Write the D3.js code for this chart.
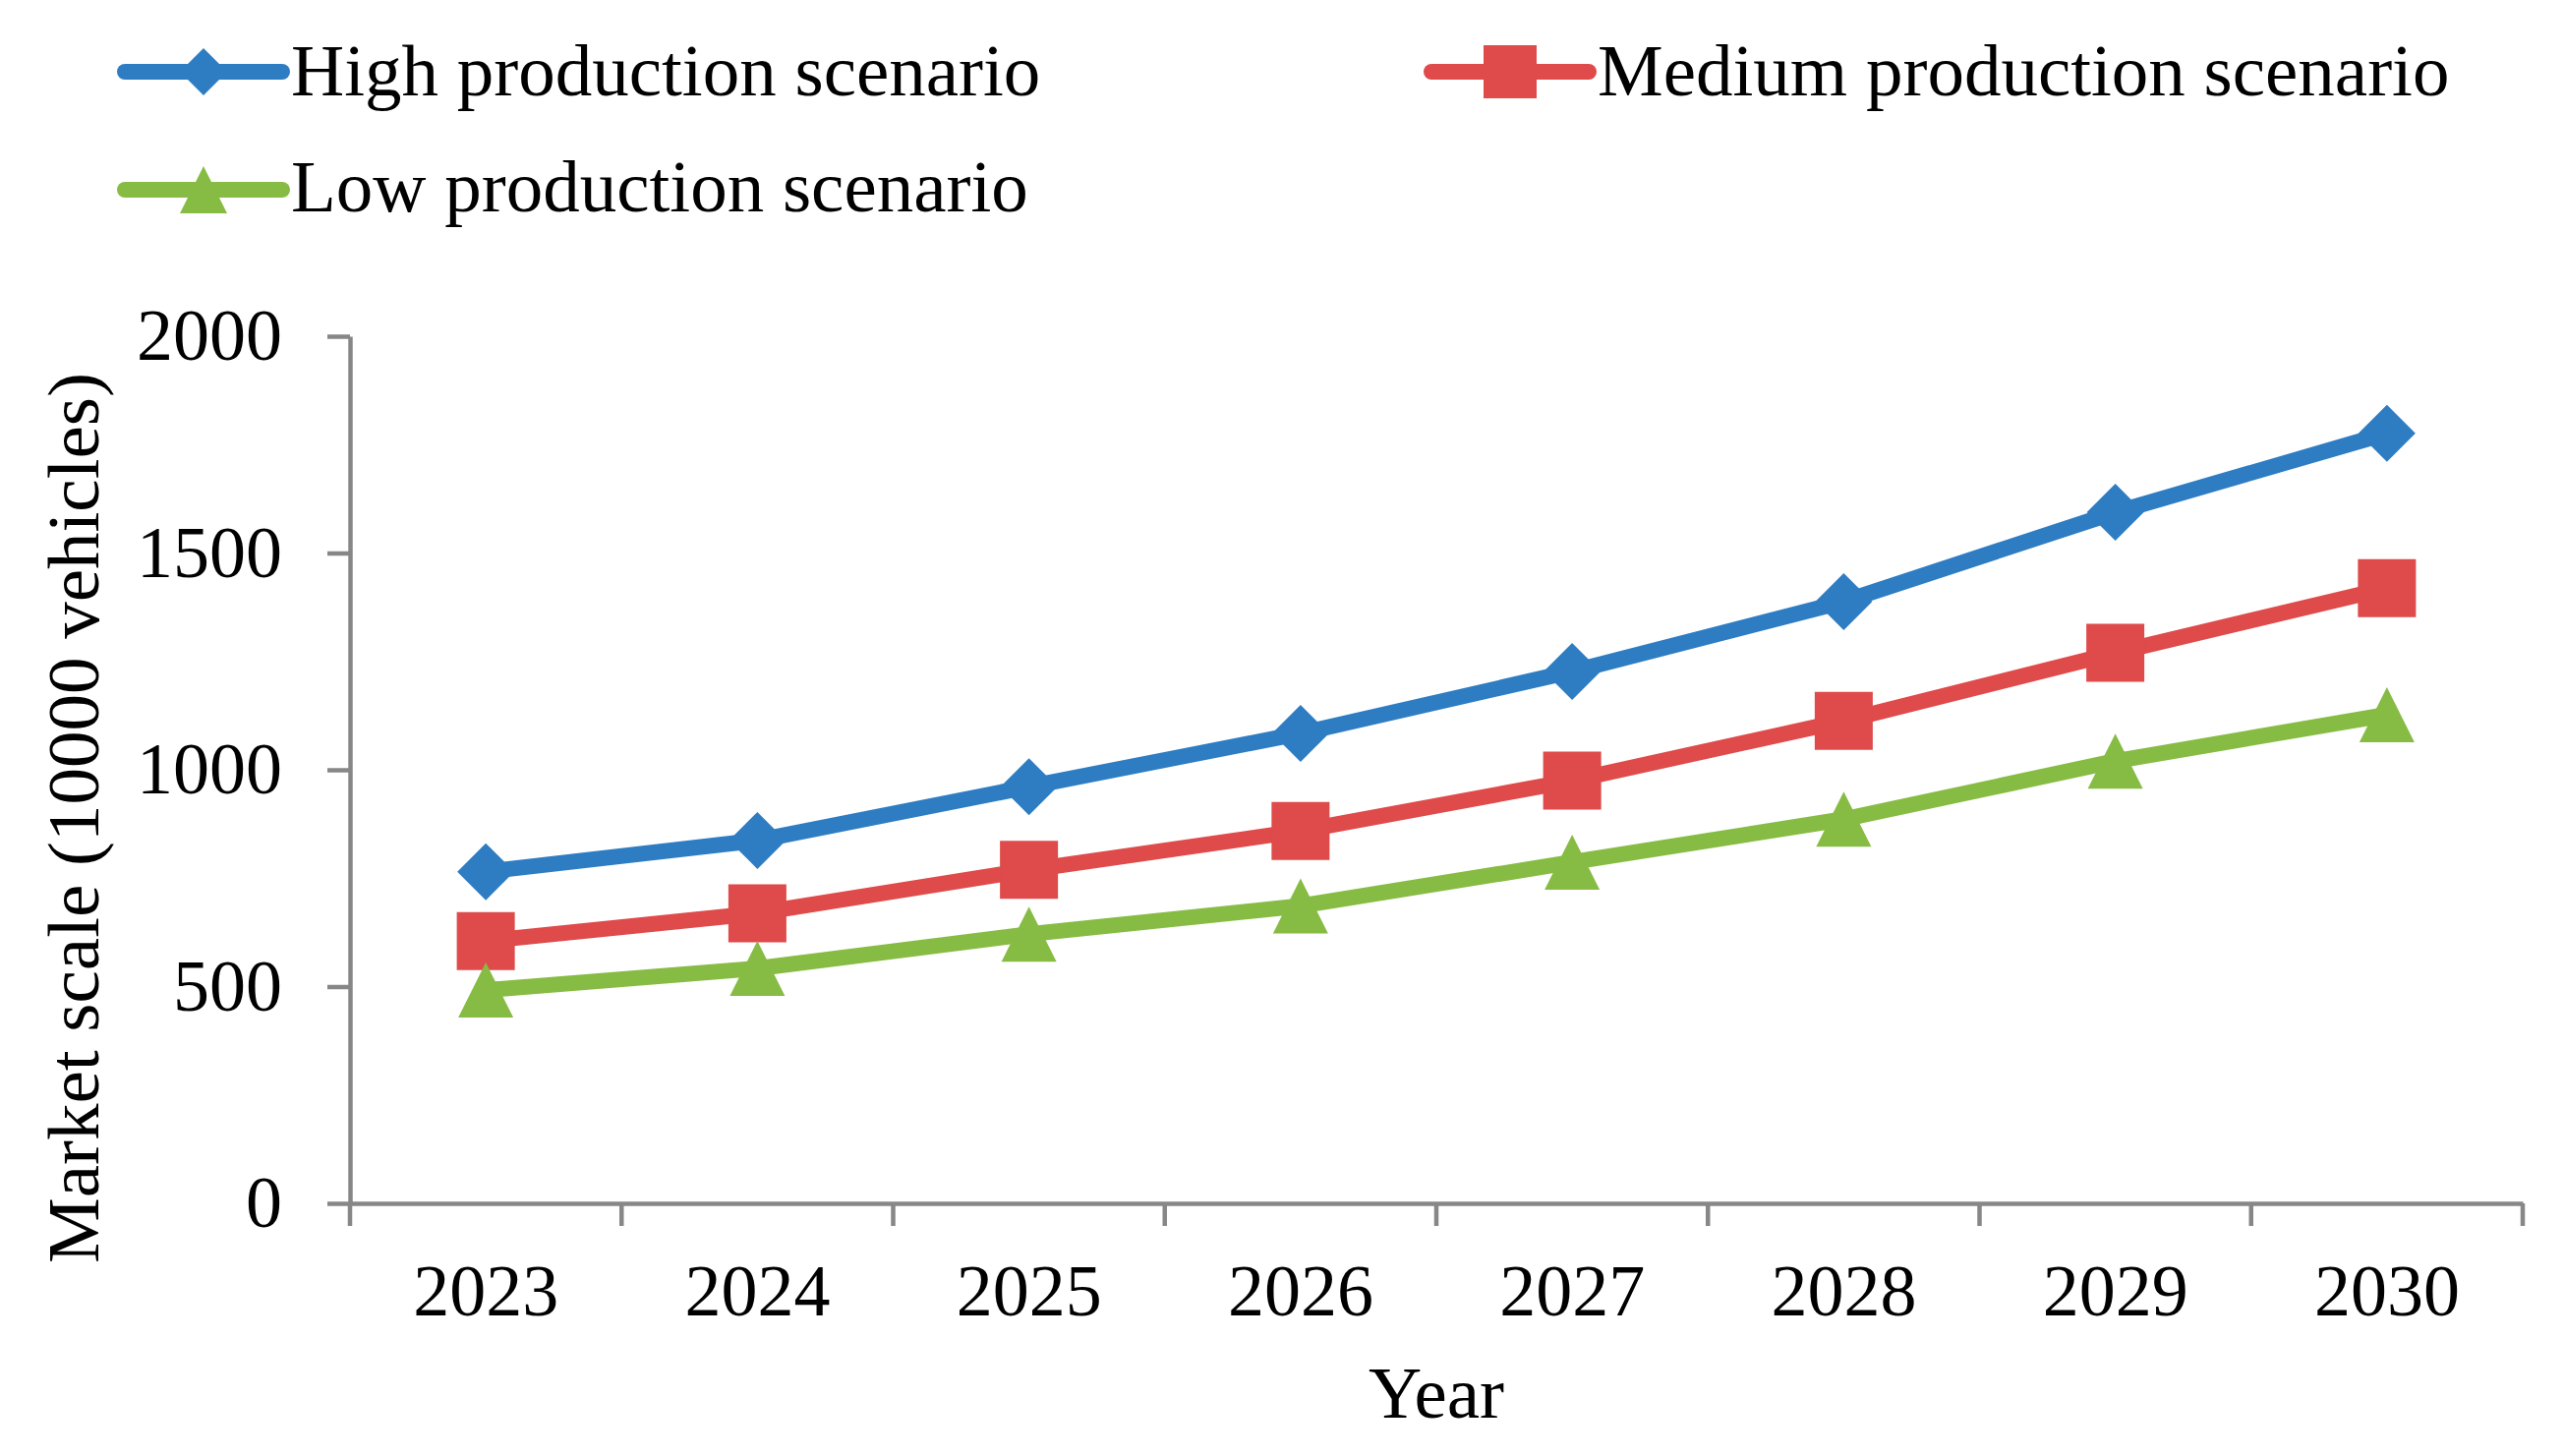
<!DOCTYPE html>
<html>
<head>
<meta charset="utf-8">
<script src="https://cdn.jsdelivr.net/npm/d3@7"></script>
<style>
  body { margin: 0; background: #fff; }
  text { font-family: "Liberation Serif", "Times New Roman", serif; fill: #000; }
</style>
</head>
<body>
<div id="chart"></div>
<script>
// data
var years = ['2023', '2024', '2025', '2026', '2027', '2028', '2029', '2030'];
var high = [765, 837, 961, 1084, 1227, 1388, 1594, 1776];
var medium = [605, 669, 769, 859, 975, 1113, 1270, 1419];
var low = [492, 542, 621, 686, 787, 886, 1020, 1127];
var seriesNames = ['High production scenario', 'Medium production scenario', 'Low production scenario'];
var yTicks = [0, 500, 1000, 1500, 2000];

var width = 2608, height = 1481;
var plotLeft = 356, plotRight = 2566, plotTop = 342, plotBottom = 1224;

// custom marker shapes
var diamondSym = {draw: function(ctx, size){
  var r = Math.sqrt(size) / 2;
  ctx.moveTo(0, -r); ctx.lineTo(r, 0); ctx.lineTo(0, r); ctx.lineTo(-r, 0); ctx.closePath();
}};
var squareSym = {draw: function(ctx, size){
  var r = Math.sqrt(size) / 2;
  ctx.rect(-r, -r, 2 * r, 2 * r);
}};
var triangleSym = {draw: function(ctx, size){
  var r = Math.sqrt(size) / 2;
  ctx.moveTo(0, -r); ctx.lineTo(r, r); ctx.lineTo(-r, r); ctx.closePath();
}};

var series = [
  {name: seriesNames[0], values: high, color: '#2e7dc3', sym: diamondSym, size: 58 * 58, legendSize: 48 * 48},
  {name: seriesNames[1], values: medium, color: '#de4b4a', sym: squareSym, size: 59 * 59, legendSize: 54 * 54},
  {name: seriesNames[2], values: low, color: '#87bc44', sym: triangleSym, size: 56 * 56, legendSize: 48 * 48}
];

var svg = d3.select('#chart').append('svg')
  .attr('width', width)
  .attr('height', height);

var x = d3.scaleBand().domain(years).range([plotLeft, plotRight]).padding(0);
var y = d3.scaleLinear().domain([0, 2000]).range([plotBottom, plotTop]);

var axisColor = '#878787';

// y axis
var yAxis = svg.append('g')
  .attr('transform', 'translate(' + plotLeft + ',0)')
  .call(d3.axisLeft(y).tickValues(yTicks).tickFormat(d3.format('d'))
    .tickSize(23).tickPadding(46).tickSizeOuter(0));
yAxis.select('.domain').attr('stroke', axisColor).attr('stroke-width', 4.5);
yAxis.selectAll('.tick line').attr('stroke', axisColor).attr('stroke-width', 4.5);
yAxis.selectAll('.tick text')
  .attr('font-size', 74)
  .attr('font-family', '"Liberation Serif", "Times New Roman", serif')
  .attr('fill', '#000');

// x axis: labels in the bands, ticks on band edges
var xAxis = svg.append('g')
  .attr('transform', 'translate(0,' + plotBottom + ')')
  .call(d3.axisBottom(x).tickSize(0).tickPadding(61).tickSizeOuter(0));
xAxis.select('.domain').attr('stroke', axisColor).attr('stroke-width', 4.5);
xAxis.selectAll('.tick text')
  .attr('font-size', 74)
  .attr('font-family', '"Liberation Serif", "Times New Roman", serif')
  .attr('fill', '#000');

var edges = years.map(function(d){ return x(d); }).concat([x(years[years.length - 1]) + x.bandwidth()]);
xAxis.selectAll('line.edge').data(edges)
  .enter().append('line')
  .attr('class', 'edge')
  .attr('x1', function(d){ return d; })
  .attr('x2', function(d){ return d; })
  .attr('y1', 0)
  .attr('y2', 23)
  .attr('stroke', axisColor)
  .attr('stroke-width', 4.5);

// axis titles
svg.append('text')
  .attr('x', (plotLeft + plotRight) / 2)
  .attr('y', 1442)
  .attr('text-anchor', 'middle')
  .attr('font-size', 75)
  .text('Year');

svg.append('text')
  .attr('transform', 'translate(100,832) rotate(-90)')
  .attr('text-anchor', 'middle')
  .attr('font-size', 75)
  .text('Market scale (10000 vehicles)');

// lines and markers
var line = d3.line()
  .x(function(d, i){ return x(years[i]) + x.bandwidth() / 2; })
  .y(function(d){ return y(d); });

series.forEach(function(s){
  var g = svg.append('g');
  g.append('path')
    .attr('d', line(s.values))
    .attr('fill', 'none')
    .attr('stroke', s.color)
    .attr('stroke-width', 16)
    .attr('stroke-linejoin', 'round');
  g.selectAll('path.mark').data(s.values)
    .enter().append('path')
    .attr('class', 'mark')
    .attr('d', d3.symbol().type(s.sym).size(s.size))
    .attr('transform', function(d, i){
      return 'translate(' + (x(years[i]) + x.bandwidth() / 2) + ',' + y(d) + ')';
    })
    .attr('fill', s.color);
});

// legend
var legendPos = [
  {x1: 127, x2: 287, y: 73, tx: 296, ty: 97},
  {x1: 1456, x2: 1616, y: 73, tx: 1625, ty: 97},
  {x1: 127, x2: 287, y: 193, tx: 296, ty: 215}
];

series.forEach(function(s, i){
  var p = legendPos[i];
  var g = svg.append('g');
  g.append('line')
    .attr('x1', p.x1).attr('x2', p.x2)
    .attr('y1', p.y).attr('y2', p.y)
    .attr('stroke', s.color)
    .attr('stroke-width', 16)
    .attr('stroke-linecap', 'round');
  g.append('path')
    .attr('d', d3.symbol().type(s.sym).size(s.legendSize))
    .attr('transform', 'translate(' + (p.x1 + p.x2) / 2 + ',' + p.y + ')')
    .attr('fill', s.color);
  g.append('text')
    .attr('x', p.tx)
    .attr('y', p.ty)
    .attr('font-size', 75)
    .text(s.name);
});
</script>
</body>
</html>
